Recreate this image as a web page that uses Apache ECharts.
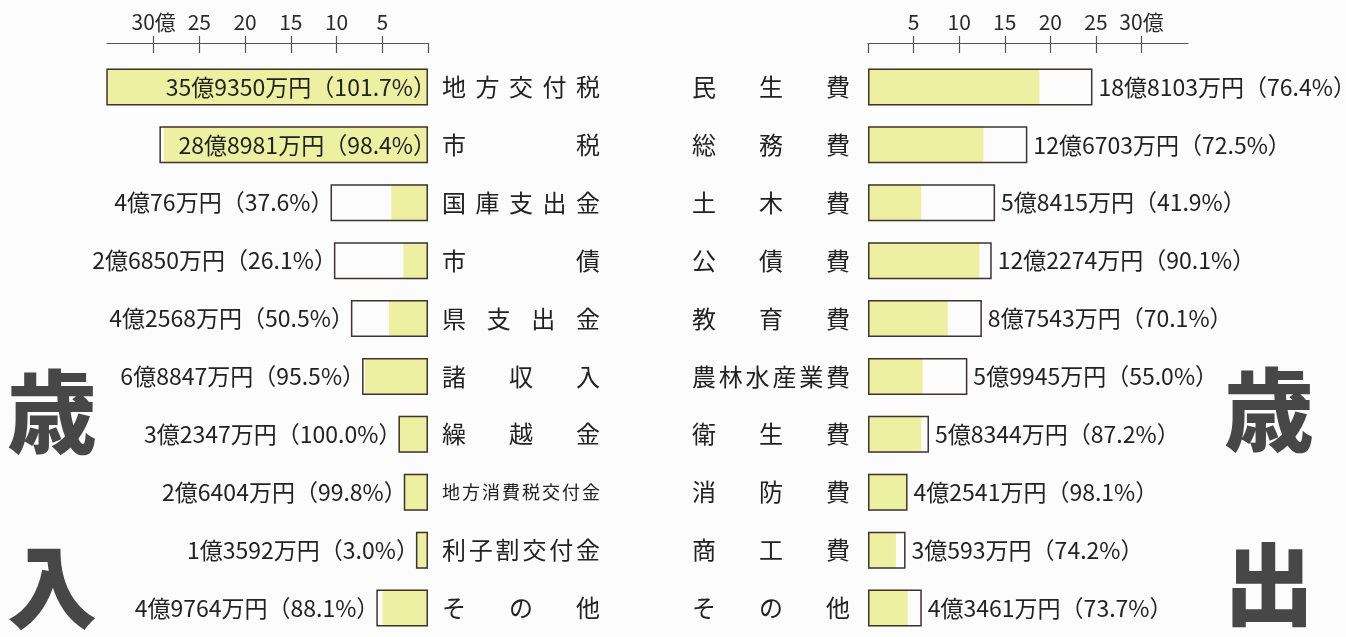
<!DOCTYPE html>
<html>
<head>
<meta charset="utf-8">
<script src="https://cdn.jsdelivr.net/npm/echarts@6/dist/echarts.min.js"></script>
<style>
html, body { margin: 0; padding: 0; background: #fcfcfc; }
#chart { width: 1346px; height: 637px; }
</style>
</head>
<body>
<div id="chart"></div>
<script>
// 歳入
var revNames = ["地方交付税", "市税", "国庫支出金", "市債", "県支出金", "諸収入", "繰越金", "地方消費税交付金", "利子割交付金", "その他"];
var revAmount = [359350, 288981, 40076, 26850, 42568, 68847, 32347, 26404, 13592, 49764]; // 万円
var revRate = [101.7, 98.4, 37.6, 26.1, 50.5, 95.5, 100.0, 99.8, 3.0, 88.1];
var revBudget = [35.33, 29.37, 10.66, 10.29, 8.43, 7.21, 3.23, 2.65, 1.32, 5.65]; // 億 (枠)

// 歳出
var expNames = ["民生費", "総務費", "土木費", "公債費", "教育費", "農林水産業費", "衛生費", "消防費", "商工費", "その他"];
var expAmount = [188103, 126703, 58415, 122274, 87543, 59945, 58344, 42541, 30593, 43461]; // 万円
var expRate = [76.4, 72.5, 41.9, 90.1, 70.1, 55.0, 87.2, 98.1, 74.2, 73.7];
var expBudget = [24.62, 17.48, 13.94, 13.57, 12.49, 10.90, 6.69, 4.34, 4.12, 5.90]; // 億 (枠)

var tickValues = [0, 5, 10, 15, 20, 25, 30];
var tickLabels = [5, 10, 15, 20, 25, 30];

var FONT = '"Noto Sans CJK JP", "Noto Sans", sans-serif';
var YELLOW = "#edf0a0";
var BORDER = "#3d3333";
var TEXT = "#222";
var NAME_W = 158;

function yen(v, r) {
  var oku = Math.floor(v / 10000);
  var man = v % 10000;
  return oku + "億" + man + "万円（" + r.toFixed(1) + "%）";
}

function fillOf(amount, budget) {
  return amount.map(function (v, i) {
    return Math.min(v / 10000, budget[i]);
  });
}

// 均等割付の項目名
var rich = {};
revNames.concat(expNames).forEach(function (nm) {
  var n = nm.length;
  var fs = n >= 8 ? 18 : 24;
  var pitch = (NAME_W - fs) / (n - 1);
  rich["k" + n] = { width: pitch, fontSize: fs, fontFamily: FONT, color: TEXT, align: "left" };
  rich["e" + n] = { width: fs, fontSize: fs, fontFamily: FONT, color: TEXT, align: "left" };
});
function spread(nm) {
  var chars = nm.split("");
  var n = chars.length;
  return chars.map(function (c, i) {
    return "{" + (i < n - 1 ? "k" : "e") + n + "|" + c + "}";
  }).join("");
}

function valueAxis(grid, inverse, withLabel) {
  return {
    type: "value",
    gridIndex: grid,
    position: "top",
    offset: 15,
    min: 0,
    max: 35.1,
    interval: 5,
    inverse: inverse,
    splitLine: { show: false },
    axisLine: { show: withLabel, lineStyle: { color: "#555", width: 1.2 } },
    axisTick: {
      show: true,
      inside: !withLabel,
      length: withLabel ? 7 : 10,
      customValues: tickValues,
      lineStyle: { color: "#555", width: 1.2 },
    },
    axisLabel: {
      show: withLabel,
      margin: 10,
      fontSize: 21,
      fontFamily: FONT,
      color: "#2a2a2a",
      showMinLabel: false,
      showMaxLabel: false,
      hideOverlap: false,
      formatter: function (v) {
        if (tickLabels.indexOf(v) < 0) return "";
        return v === 30 ? "30億" : String(v);
      },
    },
  };
}

function catAxis(grid, names, pos, margin) {
  return {
    type: "category",
    gridIndex: grid,
    data: names,
    inverse: true,
    position: pos,
    axisLine: { show: false },
    axisTick: { show: false },
    axisLabel: {
      margin: margin,
      lineHeight: 30,
      formatter: spread,
      rich: rich,
    },
  };
}

var revLabels = revBudget.map(function (b, i) {
  var inside = b > 20;
  return {
    value: b,
    label: inside
      ? { position: "insideRight", distance: 0, offset: [8, 0] }
      : { position: "left", distance: 0, offset: [3, 0] },
  };
});

var option = {
  backgroundColor: "#fcfcfc",
  animation: false,
  grid: [
    { left: 107, width: 321, top: 58, height: 593 },
    { left: 868, width: 320, top: 58, height: 593 },
  ],
  xAxis: [
    valueAxis(0, true, true),
    valueAxis(0, true, false),
    valueAxis(1, false, true),
    valueAxis(1, false, false),
  ],
  yAxis: [
    catAxis(0, revNames, "right", 14),
    catAxis(1, expNames, "left", 18),
  ],
  graphic: [
    { type: "text", x: 52, y: 412, style: { text: "歳", fontSize: 90, fontWeight: 900, fontFamily: FONT, fill: "#474747", align: "center", verticalAlign: "middle" } },
    { type: "text", x: 52, y: 587, style: { text: "入", fontSize: 90, fontWeight: 900, fontFamily: FONT, fill: "#474747", align: "center", verticalAlign: "middle" } },
    { type: "text", x: 1269, y: 410, style: { text: "歳", fontSize: 90, fontWeight: 900, fontFamily: FONT, fill: "#474747", align: "center", verticalAlign: "middle" } },
    { type: "text", x: 1269, y: 584, style: { text: "出", fontSize: 90, fontWeight: 900, fontFamily: FONT, fill: "#474747", align: "center", verticalAlign: "middle" } },
  ],
  series: [
    {
      name: "歳入収入済額",
      type: "bar",
      xAxisIndex: 0,
      yAxisIndex: 0,
      barWidth: 37,
      barGap: "-100%",
      data: fillOf(revAmount, revBudget),
      itemStyle: { color: YELLOW },
      silent: true,
    },
    {
      name: "歳入予算",
      type: "bar",
      xAxisIndex: 0,
      yAxisIndex: 0,
      barWidth: 37,
      barGap: "-100%",
      data: revLabels,
      itemStyle: { color: "rgba(0,0,0,0)", borderColor: BORDER, borderWidth: 1.5 },
      label: {
        show: true,
        fontSize: 23,
        fontFamily: FONT,
        color: TEXT,
        formatter: function (p) {
          return yen(revAmount[p.dataIndex], revRate[p.dataIndex]);
        },
      },
      silent: true,
    },
    {
      name: "歳出支出済額",
      type: "bar",
      xAxisIndex: 2,
      yAxisIndex: 1,
      barWidth: 37,
      barGap: "-100%",
      data: fillOf(expAmount, expBudget),
      itemStyle: { color: YELLOW },
      silent: true,
    },
    {
      name: "歳出予算",
      type: "bar",
      xAxisIndex: 2,
      yAxisIndex: 1,
      barWidth: 37,
      barGap: "-100%",
      data: expBudget,
      itemStyle: { color: "rgba(0,0,0,0)", borderColor: BORDER, borderWidth: 1.5 },
      label: {
        show: true,
        position: "right",
        distance: 6,
        fontSize: 23,
        fontFamily: FONT,
        color: TEXT,
        formatter: function (p) {
          return yen(expAmount[p.dataIndex], expRate[p.dataIndex]);
        },
      },
      silent: true,
    },
  ],
};

var myChart = echarts.init(document.getElementById("chart"));
myChart.setOption(option);
</script>
</body>
</html>
